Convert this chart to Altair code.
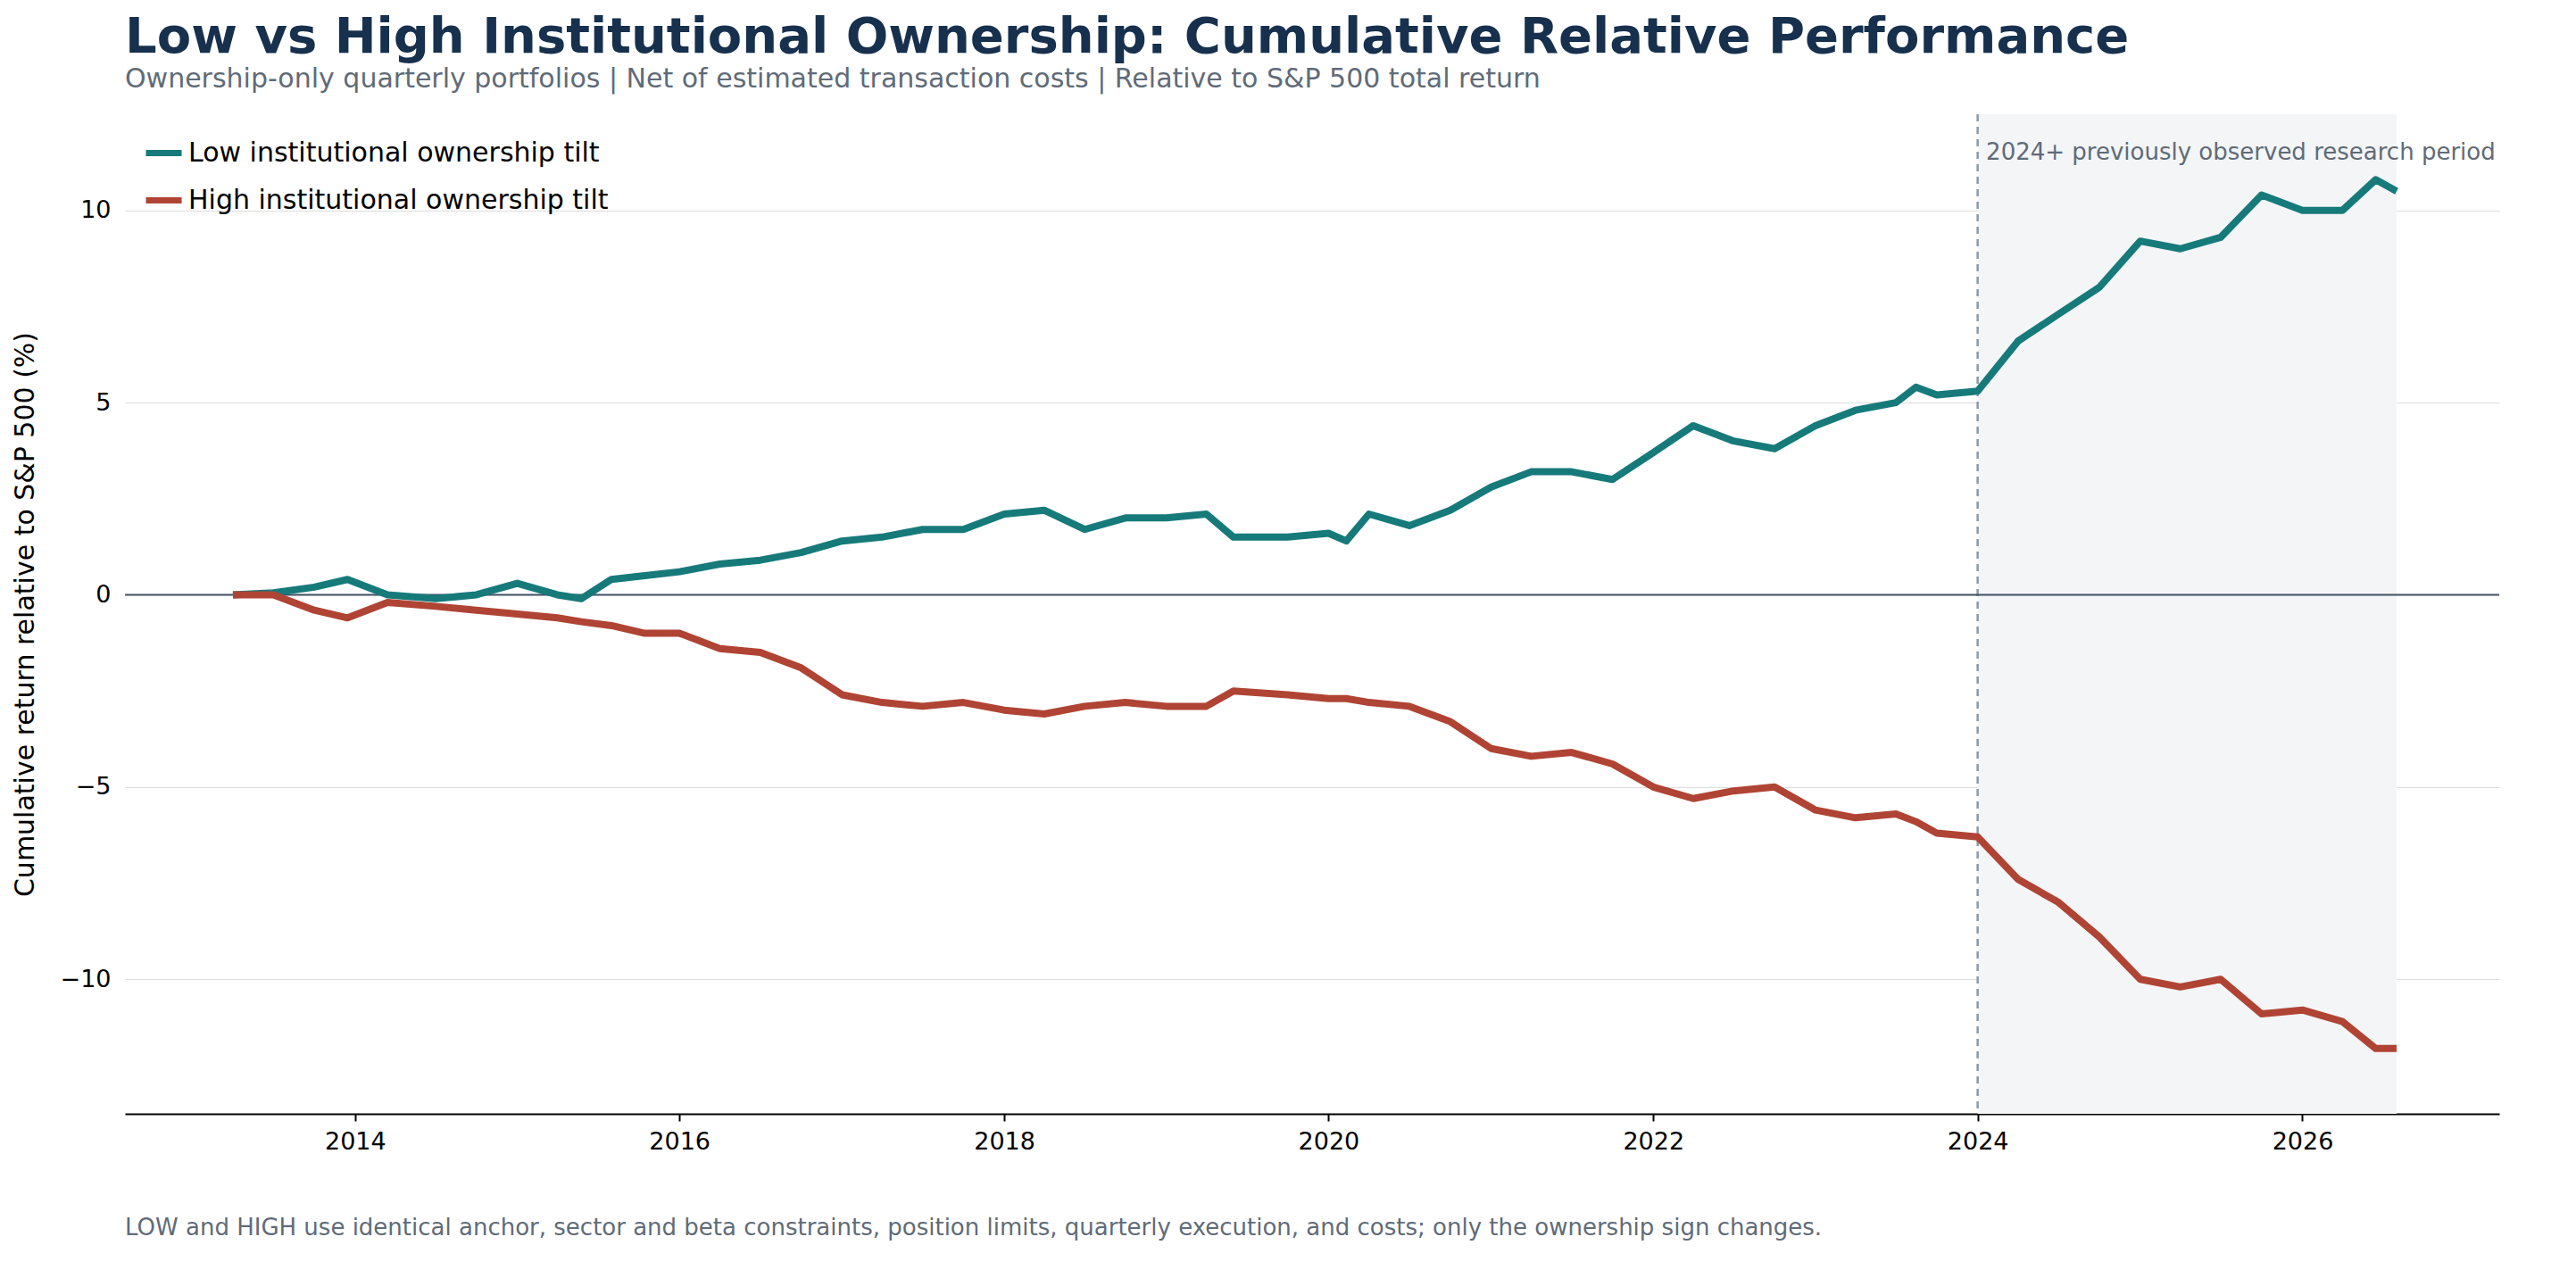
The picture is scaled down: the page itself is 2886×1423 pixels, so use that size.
import altair as alt
import pandas as pd

dates = ["2013-04-01", "2013-07-01", "2013-10-01", "2013-12-15", "2014-03-15", "2014-07-01",
         "2014-10-01", "2015-01-01", "2015-04-01", "2015-05-25", "2015-08-01", "2015-10-15",
         "2016-01-01", "2016-04-01", "2016-07-01", "2016-10-01", "2017-01-01", "2017-04-01",
         "2017-07-01", "2017-10-01", "2018-01-01", "2018-04-01", "2018-07-01", "2018-10-01",
         "2019-01-01", "2019-04-01", "2019-06-01", "2019-10-01", "2020-01-01", "2020-02-10",
         "2020-04-01", "2020-07-01", "2020-10-01", "2021-01-01", "2021-04-01", "2021-07-01",
         "2021-10-01", "2022-01-01", "2022-04-01", "2022-07-01", "2022-10-01", "2023-01-01",
         "2023-04-01", "2023-07-01", "2023-08-15", "2023-10-01", "2024-01-01", "2024-04-01",
         "2024-07-01", "2024-10-01", "2025-01-01", "2025-04-01", "2025-07-01", "2025-10-01",
         "2026-01-01", "2026-04-01", "2026-06-15", "2026-08-01"]

low = [0.0, 0.05, 0.2, 0.4, 0.0, -0.1, 0.0, 0.3, 0.0, -0.1, 0.4, 0.5,
       0.6, 0.8, 0.9, 1.1, 1.4, 1.5, 1.7, 1.7, 2.1, 2.2, 1.7, 2.0,
       2.0, 2.1, 1.5, 1.5, 1.6, 1.4, 2.1, 1.8, 2.2, 2.8, 3.2, 3.2,
       3.0, 3.7, 4.4, 4.0, 3.8, 4.4, 4.8, 5.0, 5.4, 5.2, 5.3, 6.6,
       7.3, 8.0, 9.2, 9.0, 9.3, 10.4, 10.0, 10.0, 10.8, 10.5]

high = [0.0, 0.0, -0.4, -0.6, -0.2, -0.3, -0.4, -0.5, -0.6, -0.7, -0.8, -1.0,
        -1.0, -1.4, -1.5, -1.9, -2.6, -2.8, -2.9, -2.8, -3.0, -3.1, -2.9, -2.8,
        -2.9, -2.9, -2.5, -2.6, -2.7, -2.7, -2.8, -2.9, -3.3, -4.0, -4.2, -4.1,
        -4.4, -5.0, -5.3, -5.1, -5.0, -5.6, -5.8, -5.7, -5.9, -6.2, -6.3, -7.4,
        -8.0, -8.9, -10.0, -10.2, -10.0, -10.9, -10.8, -11.1, -11.8, -11.8]

series_names = ["Low institutional ownership tilt", "High institutional ownership tilt"]
series_colors = ["#177a7a", "#b04434"]

df = pd.concat([
    pd.DataFrame({"date": dates, "value": low, "series": series_names[0]}),
    pd.DataFrame({"date": dates, "value": high, "series": series_names[1]}),
])

W, H = 2660, 1120
font = "DejaVu Sans"
xscale = alt.Scale(domain=["2012-08-01", "2027-03-20"])
yscale = alt.Scale(domain=[-13.5, 12.5], nice=False)

shade = alt.Chart(pd.DataFrame({"a": ["2024-01-01"], "b": ["2026-08-01"]})).mark_rect(
    color="#f3f5f7").encode(x=alt.X("a:T", scale=xscale), x2="b:T")

vline = alt.Chart(pd.DataFrame({"a": ["2024-01-01"]})).mark_rule(
    color="#8a9aa8", strokeDash=[8, 6], strokeWidth=2.5).encode(x=alt.X("a:T", scale=xscale))

period_label = alt.Chart(pd.DataFrame({"a": ["2024-01-20"], "t": ["2024+ previously observed research period"]})).mark_text(
    align="left", baseline="top", fontSize=26, color="#5f6b78", font=font).encode(
    x=alt.X("a:T", scale=xscale), y=alt.value(30), text="t:N")

zero = alt.Chart(pd.DataFrame({"v": [0]})).mark_rule(color="#3f5060", strokeWidth=2).encode(
    y=alt.Y("v:Q", scale=yscale))

lines = alt.Chart(df).mark_line(strokeWidth=8, strokeJoin="round").encode(
    x=alt.X("date:T", scale=xscale, title=None,
            axis=alt.Axis(format="%Y", tickCount={"interval": "year", "step": 2}, grid=False,
                          domainColor="black", domainWidth=2, tickColor="black", tickSize=8,
                          tickWidth=2, labelFontSize=27, labelPadding=10, labelColor="black")),
    y=alt.Y("value:Q", scale=yscale, title="Cumulative return relative to S&P 500 (%)",
            axis=alt.Axis(values=[-10, -5, 0, 5, 10], grid=True, gridColor="#dddddd", domain=False,
                          ticks=False, labelPadding=16, labelFontSize=27,
                          labelColor="black", titleFontSize=30, titleFontWeight="normal",
                          titleColor="black", titlePadding=24, labelExpr="replace(datum.label, '-', '−')")),
    color=alt.Color("series:N", scale=alt.Scale(domain=series_names, range=series_colors),
                    legend=alt.Legend(title=None, orient="top-left", symbolType="stroke",
                                      symbolStrokeWidth=7, symbolSize=1600, labelFontSize=30,
                                      labelLimit=800, labelColor="black", rowPadding=14,
                                      offset=10, padding=10)),
)

footnote = alt.Chart(pd.DataFrame({"t": ["LOW and HIGH use identical anchor, sector and beta constraints, position limits, quarterly execution, and costs; only the ownership sign changes."]})).mark_text(
    align="left", baseline="top", fontSize=26, color="#5f6b78", font=font).encode(
    x=alt.value(0), y=alt.value(H + 115), text="t:N")

chart = alt.layer(shade, vline, zero, lines, period_label, footnote).properties(
    width=W, height=H,
    title=alt.TitleParams(
        "Low vs High Institutional Ownership: Cumulative Relative Performance",
        subtitle="Ownership-only quarterly portfolios | Net of estimated transaction costs | Relative to S&P 500 total return",
        anchor="start", frame="group", fontSize=56, color="#17304d", font=font, subtitleFont=font,
        subtitleFontSize=30, subtitleColor="#5f6b78", offset=22),
).configure(font=font).configure_view(strokeWidth=0, stroke=None)

chart.save("out.html", embed_options={"renderer": "svg", "actions": False})
